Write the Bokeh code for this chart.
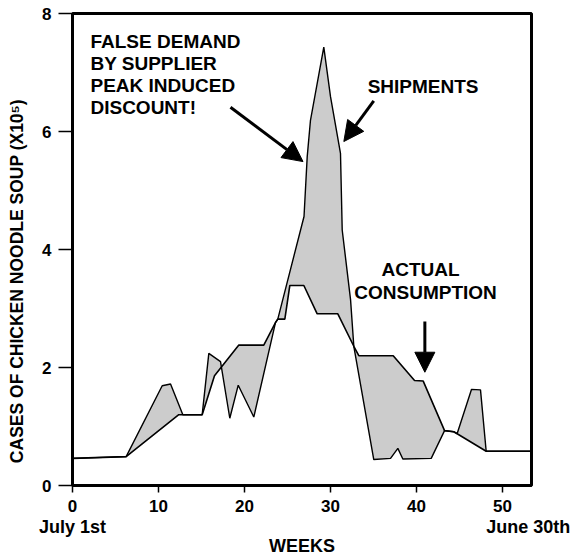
import math
from bokeh.plotting import figure
from bokeh.models import Range1d, FixedTicker, Label, Arrow, NormalHead, LinearAxis
from bokeh.embed import file_html
from bokeh.resources import INLINE

# ---- data (weeks, cases x 10^5) ----
cons_weeks = [0, 6.24, 12.36, 15.08, 16.51, 19.34, 22.24, 23.60, 23.87, 24.69, 25.27, 26.90,
              28.45, 30.85, 32.71, 33.29, 37.29, 39.77, 40.78, 43.26, 44.34, 48.10, 53.37]
cons_vals = [0.46, 0.49, 1.20, 1.20, 1.86, 2.38, 2.38, 2.76, 2.82, 2.82, 3.39, 3.39,
             2.91, 2.91, 2.36, 2.20, 2.20, 1.78, 1.77, 0.93, 0.91, 0.58, 0.58]

ship_weeks = [0, 6.24, 10.43, 11.40, 12.83, 15.08, 15.85, 17.21, 18.29, 19.27, 21.08, 23.60, 23.87,
              26.92, 27.29, 27.67, 29.22, 30.00, 31.16, 31.36, 32.33, 32.71, 35.03, 36.98, 37.83,
              38.41, 41.71, 43.26, 44.34, 44.73, 46.40, 47.44, 48.10, 53.37]
ship_vals = [0.46, 0.49, 1.69, 1.72, 1.20, 1.20, 2.24, 2.10, 1.14, 1.70, 1.16, 2.76, 2.82,
             4.56, 5.57, 6.19, 7.43, 6.59, 5.63, 4.33, 3.15, 2.36, 0.44, 0.46, 0.63,
             0.45, 0.46, 0.93, 0.91, 0.88, 1.63, 1.62, 0.58, 0.58]

x_ticks = [0, 10, 20, 30, 40, 50]
y_ticks = [0, 2, 4, 6, 8]
period_ticks = [0, 53]
period_labels = ["July 1st", "June 30th"]
y_title = "CASES OF CHICKEN NOODLE SOUP (X10\u2075)"

FONT = "Liberation Sans"

p = figure(width=572, height=558, x_range=Range1d(0, 53.37), y_range=Range1d(0, 8),
           output_backend="svg", toolbar_location=None,
           min_border_left=72, min_border_right=41, min_border_top=13, min_border_bottom=72)

p.xgrid.visible = False
p.ygrid.visible = False
p.outline_line_color = "black"
p.outline_line_width = 3
p.outline_line_alpha = 1.0

# fill between shipments and consumption
p.patch(ship_weeks + cons_weeks[::-1], ship_vals + cons_vals[::-1],
        fill_color="#cccccc", line_color=None)
p.line(ship_weeks, ship_vals, line_color="black", line_width=1.4)
p.line(cons_weeks, cons_vals, line_color="black", line_width=1.6)

for ax in (p.xaxis[0], p.yaxis[0]):
    ax.axis_line_width = 3
    ax.axis_line_color = "black"
    ax.major_tick_in = 0
    ax.minor_tick_line_color = None
    ax.major_tick_line_width = 1.5
    ax.major_label_text_font = FONT
    ax.major_label_text_font_style = "bold"
    ax.major_label_text_font_size = "17px"
    ax.major_label_text_color = "black"

p.xaxis.ticker = FixedTicker(ticks=x_ticks)
p.xaxis.major_tick_out = 7
p.xaxis.major_label_standoff = 7
p.yaxis.ticker = FixedTicker(ticks=y_ticks)
p.yaxis.major_tick_out = 14
p.yaxis.major_label_standoff = 7
# the label sits below the middle of the axis in the original: pad its top end
p.yaxis.axis_label = y_title + "\u00a0" * 13
p.yaxis.axis_label_standoff = 12
p.yaxis.axis_label_text_font = FONT
p.yaxis.axis_label_text_font_style = "bold"
p.yaxis.axis_label_text_font_size = "17.5px"
p.yaxis.axis_label_text_color = "black"

# second bottom axis: start / end of the year + WEEKS label
ax2 = LinearAxis(ticker=FixedTicker(ticks=period_ticks),
                 major_label_overrides={t: l for t, l in zip(period_ticks, period_labels)})
ax2.axis_line_color = None
ax2.major_tick_line_color = None
ax2.minor_tick_line_color = None
ax2.major_tick_out = 0
ax2.major_tick_in = 0
ax2.major_label_standoff = 2
ax2.major_label_text_font = FONT
ax2.major_label_text_font_style = "bold"
ax2.major_label_text_font_size = "18px"
ax2.major_label_text_color = "black"
ax2.axis_label = "WEEKS"
ax2.axis_label_standoff = -4
ax2.axis_label_text_font = FONT
ax2.axis_label_text_font_style = "bold"
ax2.axis_label_text_font_size = "18px"
ax2.axis_label_text_color = "black"
p.add_layout(ax2, "below")


def lab(txt, x, y, align="center", size="19px"):
    p.add_layout(Label(x=x, y=y, text=txt, text_align=align, text_baseline="middle",
                       text_font=FONT, text_font_style="bold", text_font_size=size,
                       text_color="black"))


# annotations
for t, yy in zip(["FALSE DEMAND", "BY SUPPLIER", "PEAK INDUCED", "DISCOUNT!"],
                 [7.518, 7.155, 6.783, 6.412]):
    lab(t, 2.09, yy, align="left")
lab("SHIPMENTS", 40.76, 6.766)
lab("ACTUAL", 40.47, 3.658)
lab("CONSUMPTION", 41.05, 3.269)

for (xs, ys, xe, ye) in [(18.37, 6.41, 26.80, 5.49),
                         (35.03, 6.52, 31.55, 5.83),
                         (40.97, 2.78, 40.97, 1.92)]:
    p.add_layout(Arrow(x_start=xs, y_start=ys, x_end=xe, y_end=ye, line_width=3,
                       line_color="black",
                       end=NormalHead(size=20, fill_color="black", line_color="black")))

open("out.html", "w").write(file_html(p, INLINE))
